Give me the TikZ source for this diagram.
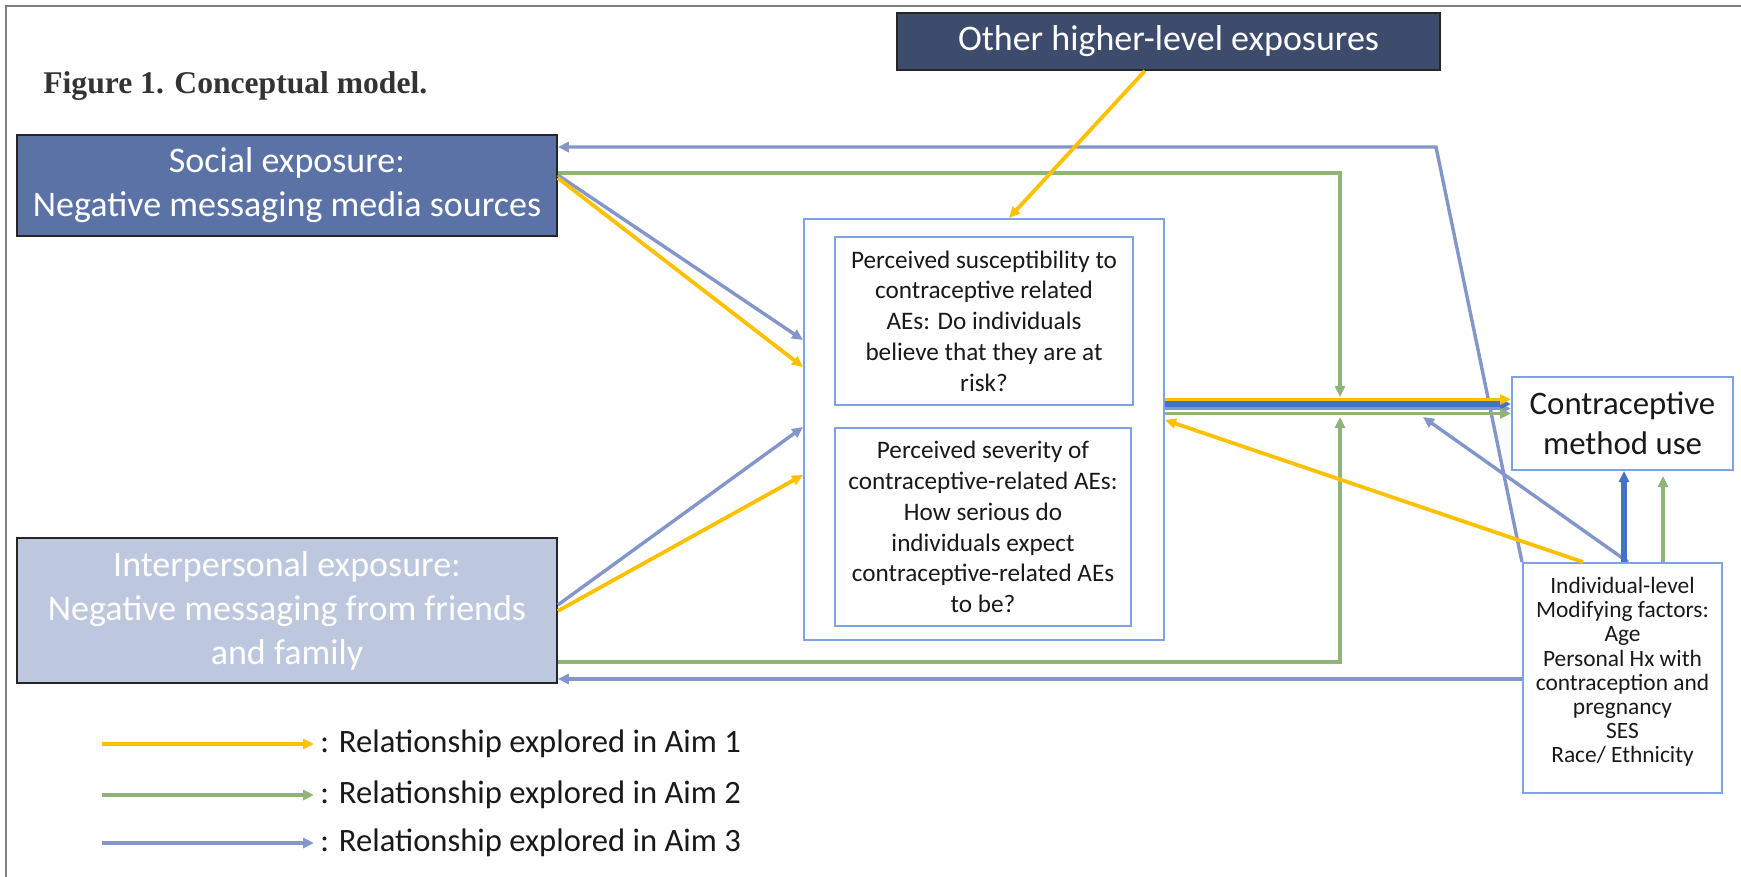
\documentclass[tikz,border=0pt]{standalone}
\usepackage{fontspec}
\setmainfont{Carlito}
\newfontfamily\captionfont{Liberation Serif}
\usetikzlibrary{arrows.meta}

\definecolor{aimyellow}{HTML}{FFC000}
\definecolor{aimgreen}{HTML}{8FB477}
\definecolor{aimblue}{HTML}{8296CA}
\definecolor{aimdarkblue}{HTML}{4472C4}
\definecolor{constructedge}{HTML}{7FA3E2}
\definecolor{otherfill}{HTML}{3D4B6D}
\definecolor{socialfill}{HTML}{5A72A6}
\definecolor{interfill}{HTML}{BDC7DD}
\definecolor{framegray}{HTML}{808080}

\tikzset{
	x=0.5pt, y=-0.5pt,
	exposure/.style={draw=black!85, line width=0.8pt, text=white, align=center, inner sep=0pt,
		font=\fontsize{18}{22}\selectfont},
	construct/.style={draw=constructedge, line width=1pt, fill=white, align=center, inner sep=0pt,
		text=black!90},
	legend/.style={inner sep=3pt, text=black!90, font=\fontsize{16.3}{19}\selectfont},
	aim/.style={line width=1.7pt, -{Triangle[length=5.5pt,width=5pt]}},
	aimone/.style={aim, draw=aimyellow, line width=1.9pt},
	aimtwo/.style={aim, draw=aimgreen},
	aimthree/.style={aim, draw=aimblue},
	aimdark/.style={aim, draw=aimdarkblue, line width=2.6pt},
}

\begin{document}
\begin{tikzpicture}
	\useasboundingbox (0,0) rectangle (1741,877);
	\draw[framegray, line width=1pt] (6,877) -- (6,6) -- (1741,6);
	\node[anchor=west, inner sep=0pt, text=black!80, font=\captionfont\bfseries\fontsize{15.8}{18}\selectfont] (caption) at (43,86) {Figure 1. Conceptual model.};

	% exposures
	\node[exposure, fill=otherfill, minimum width=271.5pt, minimum height=28.5pt] (other) at (1168.5,41.5) {Other higher-level exposures};
	\node[exposure, fill=socialfill, minimum width=270pt, minimum height=50.5pt] (social) at (287,185.5) {Social exposure:\\Negative messaging media sources};
	\node[exposure, fill=interfill, minimum width=270pt, minimum height=72.5pt] (inter) at (287,610.5) {Interpersonal exposure:\\Negative messaging from friends\\and family};

	% perceived threat
	\node[construct, minimum width=180pt, minimum height=210.5pt] (outer) at (984,429.5) {};
	\node[construct, minimum width=149pt, minimum height=84pt, font=\fontsize{12.6}{15.4}\selectfont] (sus) at (984,321) {Perceived susceptibility to\\contraceptive related\\AEs: Do individuals\\believe that they are at\\risk?};
	\node[construct, minimum width=148pt, minimum height=99pt, font=\fontsize{12.6}{15.4}\selectfont] (sev) at (983,527) {Perceived severity of\\contraceptive-related AEs:\\How serious do\\individuals expect\\contraceptive-related AEs\\to be?};

	% outcome and modifiers
	\node[construct, minimum width=110.5pt, minimum height=46.5pt, font=\fontsize{16.4}{20}\selectfont] (use) at (1622.5,423.5) {Contraceptive\\method use};
	\node[construct, minimum width=99.5pt, minimum height=115pt, text depth=8pt, font=\fontsize{11.7}{12.1}\selectfont] (indiv) at (1622.5,678) {Individual-level\\Modifying factors:\\Age\\Personal Hx with\\contraception and\\pregnancy\\SES\\Race/ Ethnicity};

	\coordinate (btop) at (1436,147);
	\coordinate (btip) at (1423,417);
	\coordinate (gtop) at (1340,173);
	\coordinate (gtoptip) at (1340,397);
	\coordinate (gbot) at (1340,662);
	\coordinate (gbottip) at (1340,417);
	\coordinate (gusetip) at (1663,476);

	% aim 3
	\draw[aimthree] (indiv.north west) -- (btop) -- (social.east |- btop);
	\draw[aimthree] (social.east |- 0,175) -- (outer.west |- 0,340);
	\draw[aimthree] (inter.east |- 0,605) -- (outer.west |- 0,427);
	\draw[aimthree] (indiv.west |- 0,679) -- (inter.east |- 0,679);
	\draw[aimthree] (outer.east |- 0,408.5) -- (use.west |- 0,408.5);
	\draw[aimthree] (1628,0 |- indiv.north) -- (btip);
	\draw[aimdark] (outer.east |- 0,404) -- (use.west |- 0,404);
	\draw[aimdark] (1624,0 |- indiv.north) -- (1624,0 |- use.south);

	% aim 2
	\draw[aimtwo] (social.east |- gtop) -- (gtop) -- (gtoptip);
	\draw[aimtwo] (inter.east |- gbot) -- (gbot) -- (gbottip);
	\draw[aimtwo] (outer.east |- 0,413.5) -- (use.west |- 0,413.5);
	\draw[aimtwo] (gusetip |- indiv.north) -- (gusetip);

	% aim 1
	\draw[aimone] (1145,0 |- other.south) -- (1009,0 |- outer.north);
	\draw[aimone] (social.east |- 0,178) -- (outer.west |- 0,367);
	\draw[aimone] (inter.east |- 0,611) -- (outer.west |- 0,475);
	\draw[aimone] (outer.east |- 0,399.5) -- (use.west |- 0,399.5);
	\draw[aimone] (1583,0 |- indiv.north) -- (outer.east |- 0,420);

	% legend
	\foreach \s/\y/\n in {aimone/744/1, aimtwo/795/2, aimthree/843/3} {
		\coordinate (leg\n) at (102,\y);
		\node[legend, anchor=west] (legtext\n) at (314,\y) {: Relationship explored in Aim \n};
		\draw[\s] (leg\n) -- (legtext\n.west);
	}
\end{tikzpicture}
\end{document}
